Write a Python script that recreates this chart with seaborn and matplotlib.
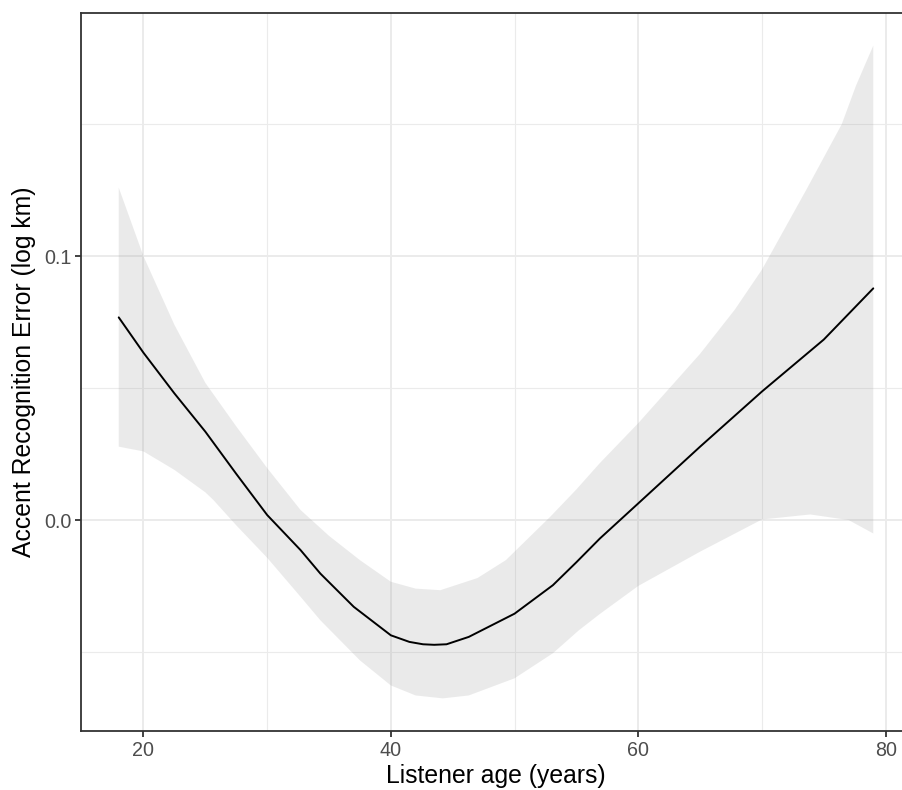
import numpy as np
import pandas as pd
import matplotlib
matplotlib.use("Agg")
import matplotlib.pyplot as plt
import seaborn as sns
from matplotlib.ticker import FixedLocator

# Data
line_age = [18, 20, 22.5, 25, 27.5, 30, 32.7, 34.3, 37.0, 40, 41.5, 42.6, 43.5, 44.5,
            46.3, 50, 53.1, 55, 56.9, 60, 65, 70, 75, 79]
line_fit = [0.0768, 0.0634, 0.0480, 0.0335, 0.0175, 0.0019, -0.0114, -0.0203, -0.0329,
            -0.0437, -0.0462, -0.0471, -0.0473, -0.0471,
            -0.0443, -0.0355, -0.0247, -0.0160, -0.0070, 0.0063, 0.0278, 0.0487, 0.0684, 0.0878]

up_age = [18, 20, 22.5, 25, 27.5, 30, 32.7, 35, 37.5, 40, 42, 44, 47, 49.3, 52.9, 55,
          56.9, 60, 65, 67.8, 70, 73.6, 76.45, 77.6, 79]
up_val = [0.1260, 0.1000, 0.0740, 0.0520, 0.0355, 0.0197, 0.0038, -0.0060, -0.0152,
          -0.0234, -0.0260, -0.0266, -0.0220, -0.0152, 0.0013, 0.0116,
          0.0216, 0.0367, 0.0630, 0.0797, 0.0949, 0.1253, 0.1500, 0.1646, 0.1798]

lo_age = [18, 20, 22.5, 25, 25.65, 27.5, 30, 32.7, 34.3, 37.5, 40, 42, 44.2, 46.3, 50,
          53.1, 55.2, 56.9, 60, 65, 70, 73.9, 77, 79]
lo_val = [0.0278, 0.0260, 0.0190, 0.0105, 0.0076, -0.0020, -0.0143, -0.0291, -0.0380,
          -0.0532, -0.0627, -0.0665, -0.0676, -0.0665, -0.0600,
          -0.0505, -0.0418, -0.0356, -0.0250, -0.0120, 0.0002, 0.0021, 0.0000, -0.0051]

x_ticks = [20, 40, 60, 80]
y_ticks = [0.0, 0.1]
y_tick_labels = ["0.0", "0.1"]
x_label = "Listener age (years)"
y_label = "Accent Recognition Error (log km)"

df = pd.DataFrame({"age": line_age, "fit": line_fit})
# ribbon polygon: upper edge left->right then lower edge right->left
rib_x = list(up_age) + list(lo_age[::-1])
rib_y = list(up_val) + list(lo_val[::-1])

sns.set_theme(style="white")
plt.rcParams["font.family"] = ["Liberation Sans", "DejaVu Sans"]

fig = plt.figure(figsize=(9.03, 7.90), dpi=100)
ax = fig.add_axes([81 / 903, 59 / 790, 830 / 903, 718 / 790])
ax.set_facecolor("white")

ax.fill(rib_x, rib_y, color="#999999", alpha=0.2, linewidth=0, zorder=2)
sns.lineplot(data=df, x="age", y="fit", color="black", linewidth=1.4, ax=ax, zorder=3)

xmin, xmax = 18, 79
ymin, ymax = -0.0676, 0.1798
xr, yr = xmax - xmin, ymax - ymin
ax.set_xlim(xmin - 0.05 * xr, xmax + 0.05 * xr)
ax.set_ylim(ymin - 0.05 * yr, ymax + 0.05 * yr)

ax.xaxis.set_major_locator(FixedLocator(x_ticks))
ax.xaxis.set_minor_locator(FixedLocator([30, 50, 70]))
ax.yaxis.set_major_locator(FixedLocator(y_ticks))
ax.yaxis.set_minor_locator(FixedLocator([-0.05, 0.05, 0.15]))
ax.set_yticklabels(y_tick_labels)

ax.grid(which="major", color="#EBEBEB", linewidth=1.4, zorder=0)
ax.grid(which="minor", color="#EBEBEB", linewidth=0.8, zorder=0)
ax.set_axisbelow(True)

for name, s in ax.spines.items():
    s.set_color("#333333")
    s.set_linewidth(1.3)
    s.set_visible(name != "right")

ax.tick_params(axis="both", which="major", length=4, width=1.3, color="#333333",
               labelsize=14.2, labelcolor="#4D4D4D", pad=3, bottom=True, left=True)
ax.tick_params(axis="both", which="minor", length=0)

ax.set_xlabel(x_label, fontsize=17.8, color="black", labelpad=3)
ax.set_ylabel(y_label, fontsize=17.8, color="black", labelpad=6)

fig.savefig("out.png", dpi=100)
